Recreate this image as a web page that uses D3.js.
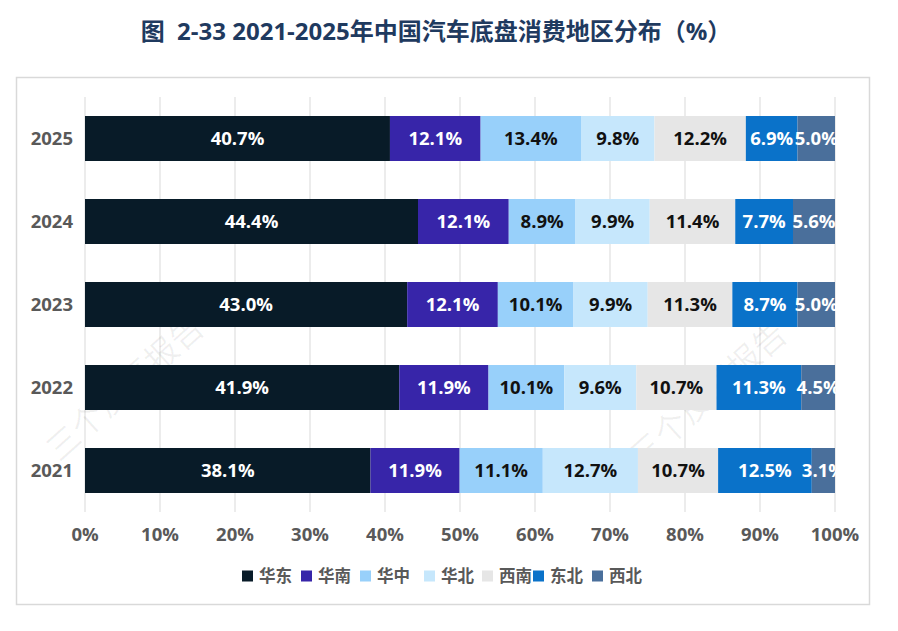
<!DOCTYPE html>
<html>
<head>
<meta charset="utf-8">
<script src="https://cdn.jsdelivr.net/npm/d3@7"></script>
<style>
  body { margin: 0; background: #fff; }
  text { font-family: "Open Sans", "Noto Sans CJK SC", sans-serif; }
</style>
</head>
<body>
<div id="main"></div>
<script>
const W = 898, H = 631;

// data
const years = ["2025", "2024", "2023", "2022", "2021"];
const regions = ["华东", "华南", "华中", "华北", "西南", "东北", "西北"];
const east      = [40.7, 44.4, 43.0, 41.9, 38.1];
const south     = [12.1, 12.1, 12.1, 11.9, 11.9];
const central   = [13.4, 8.9, 10.1, 10.1, 11.1];
const north     = [9.8, 9.9, 9.9, 9.6, 12.7];
const southwest = [12.2, 11.4, 11.3, 10.7, 10.7];
const northeast = [6.9, 7.7, 8.7, 11.3, 12.5];
const northwest = [5.0, 5.6, 5.0, 4.5, 3.1];
const xTicks = [0, 10, 20, 30, 40, 50, 60, 70, 80, 90, 100];

const colors = ["#081b28", "#3725a9", "#98d0fa", "#c6e7fc", "#e6e6e6", "#0a72c9", "#4a6f9b"];
const labelColors = ["#fff", "#fff", "#111", "#111", "#111", "#fff", "#fff"];

const series = [east, south, central, north, southwest, northeast, northwest];
const rows = years.map((y, i) => {
    const r = { year: y };
    regions.forEach((k, j) => { r[k] = series[j][i]; });
    return r;
});

const svg = d3.select("#main").append("svg")
    .attr("width", W)
    .attr("height", H);

// frame
svg.append("rect")
    .attr("x", 16.5).attr("y", 77.5)
    .attr("width", 853).attr("height", 527)
    .attr("fill", "none")
    .attr("stroke", "#d9d9d9")
    .attr("stroke-width", 1.5);

// title
svg.append("text")
    .attr("x", 436).attr("y", 40)
    .attr("text-anchor", "middle")
    .style("white-space", "pre")
    .style("font-size", "24px")
    .style("font-weight", "bold")
    .style("fill", "#1f3a5f")
    .text("图  2-33 2021-2025年中国汽车底盘消费地区分布（%）");

const x = d3.scaleLinear().domain([0, 1]).range([85, 835]);
const y = d3.scaleBand().domain(years).range([97, 512])
    .paddingInner(0.458).paddingOuter(0.229);

// grid lines
svg.append("g").selectAll("line")
    .data(xTicks)
    .enter().append("line")
    .attr("x1", d => x(d / 100)).attr("x2", d => x(d / 100))
    .attr("y1", 97).attr("y2", 512)
    .attr("stroke", "#d9d9d9")
    .attr("stroke-width", 1);

// watermark
[[125, 388], [708, 395]].forEach(p => {
    svg.append("text")
        .attr("transform", `translate(${p[0]},${p[1]}) rotate(-42)`)
        .attr("text-anchor", "middle")
        .attr("dy", "0.35em")
        .style("font-size", "33px")
        .style("fill", "rgba(0,0,0,0.06)")
        .text("三个皮匠报告");
});

const stack = d3.stack().keys(regions).offset(d3.stackOffsetExpand);
const layers = stack(rows);

const layer = svg.selectAll("g.layer")
    .data(layers)
    .enter().append("g")
    .attr("class", "layer")
    .attr("fill", (d, i) => colors[i]);

layer.selectAll("rect")
    .data(d => d)
    .enter().append("rect")
    .attr("x", d => x(d[0]))
    .attr("y", d => y(d.data.year))
    .attr("width", d => x(d[1]) - x(d[0]))
    .attr("height", y.bandwidth());

layer.each(function (l, i) {
    d3.select(this).selectAll("text")
        .data(l)
        .enter().append("text")
        .attr("x", d => (x(d[0]) + x(d[1])) / 2)
        .attr("y", d => y(d.data.year) + y.bandwidth() / 2)
        .attr("dy", "0.36em")
        .attr("text-anchor", "middle")
        .style("font-size", "18.5px")
        .style("font-weight", "bold")
        .style("fill", labelColors[i])
        .text(d => d.data[l.key].toFixed(1) + "%");
});

// y labels
svg.append("g").selectAll("text")
    .data(years)
    .enter().append("text")
    .attr("x", 73)
    .attr("y", d => y(d) + y.bandwidth() / 2)
    .attr("dy", "0.36em")
    .attr("text-anchor", "end")
    .style("font-size", "18.5px")
    .style("font-weight", "bold")
    .style("fill", "#595959")
    .text(d => d);

// x labels
svg.append("g").selectAll("text")
    .data(xTicks)
    .enter().append("text")
    .attr("x", d => x(d / 100))
    .attr("y", 534)
    .attr("dy", "0.36em")
    .attr("text-anchor", "middle")
    .style("font-size", "18.5px")
    .style("font-weight", "bold")
    .style("fill", "#595959")
    .text(d => d + "%");

// legend
const legendX = [242, 301, 360, 424, 482, 533, 592];
const lg = svg.append("g").selectAll("g")
    .data(regions)
    .enter().append("g")
    .attr("transform", (d, i) => `translate(${legendX[i]},576)`);
lg.append("rect")
    .attr("x", 0).attr("y", -5.5)
    .attr("width", 11).attr("height", 11)
    .attr("fill", (d, i) => colors[i]);
lg.append("text")
    .attr("x", 17)
    .attr("dy", "0.36em")
    .style("font-size", "16.5px")
    .style("font-weight", "bold")
    .style("fill", "#595959")
    .text(d => d);
</script>
</body>
</html>
